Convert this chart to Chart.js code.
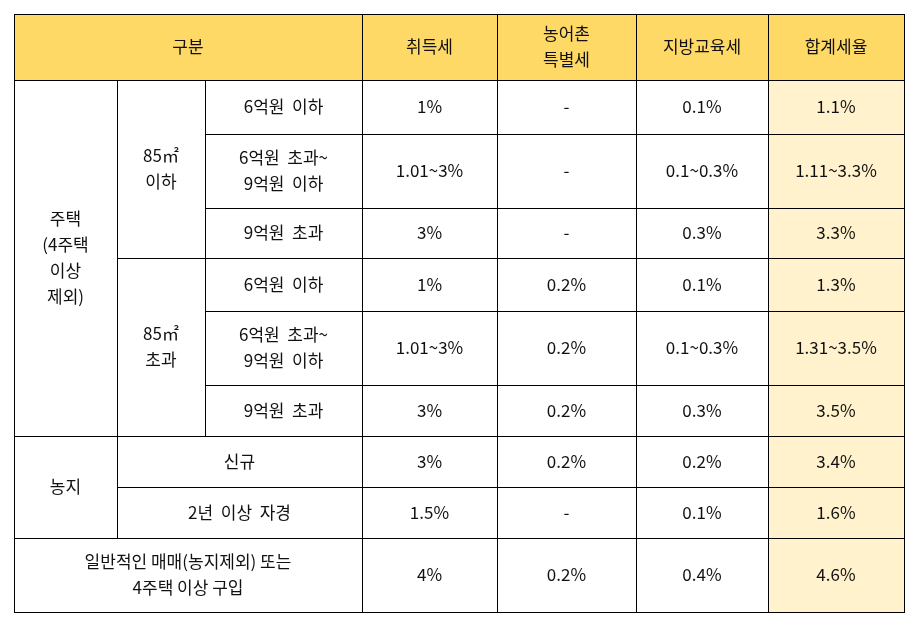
<!DOCTYPE html>
<html>
<head>
<meta charset="utf-8">
<script src="https://cdn.jsdelivr.net/npm/chart.js@4"></script>
<style>
  html, body { margin: 0; padding: 0; background: #fff; }
  #wrap { width: 915px; height: 628px; }
</style>
</head>
<body>
<div id="wrap"><canvas id="c"></canvas></div>
<script>
// Table content
const headers = ['구분', '취득세', '농어촌\n특별세', '지방교육세', '합계세율'];
const groupLabels = ['주택\n(4주택\n이상\n제외)', '농지', '일반적인 매매(농지제외) 또는\n4주택 이상 구입'];
const sizeLabels = ['85㎡\n이하', '85㎡\n초과'];
const priceLabels = ['6억원  이하', '6억원  초과~\n9억원  이하', '9억원  초과'];
const farmLabels = ['신규', '2년  이상  자경'];
const acquisitionTax = ['1%', '1.01~3%', '3%', '1%', '1.01~3%', '3%', '3%', '1.5%', '4%'];
const ruralTax = ['-', '-', '-', '0.2%', '0.2%', '0.2%', '0.2%', '-', '0.2%'];
const educationTax = ['0.1%', '0.1~0.3%', '0.3%', '0.1%', '0.1~0.3%', '0.3%', '0.2%', '0.1%', '0.4%'];
const totalRate = ['1.1%', '1.11~3.3%', '3.3%', '1.3%', '1.31~3.5%', '3.5%', '3.4%', '1.6%', '4.6%'];

// Layout (grid lines in scale units)
const colEdges = [14, 117, 205, 362, 497, 636, 768, 904];
const rowEdges = [14, 80, 134, 208, 258, 311, 385, 436, 487, 538, 612];

const HEAD_BG = '#FFD966';
const TOTAL_BG = '#FFF2CC';

// cells: [c0, c1, r0, r1, text, fill]
const cells = [];
cells.push([0, 3, 0, 1, headers[0], HEAD_BG]);
for (let i = 1; i < headers.length; i++) cells.push([i + 2, i + 3, 0, 1, headers[i], HEAD_BG]);
cells.push([0, 1, 1, 7, groupLabels[0]]);
sizeLabels.forEach((s, k) => {
  cells.push([1, 2, 1 + k * 3, 4 + k * 3, s]);
  priceLabels.forEach((p, j) => cells.push([2, 3, 1 + k * 3 + j, 2 + k * 3 + j, p]));
});
cells.push([0, 1, 7, 9, groupLabels[1]]);
farmLabels.forEach((f, j) => cells.push([1, 3, 7 + j, 8 + j, f]));
cells.push([0, 3, 9, 10, groupLabels[2]]);
for (let r = 0; r < acquisitionTax.length; r++) {
  cells.push([3, 4, r + 1, r + 2, acquisitionTax[r]]);
  cells.push([4, 5, r + 1, r + 2, ruralTax[r]]);
  cells.push([5, 6, r + 1, r + 2, educationTax[r]]);
  cells.push([6, 7, r + 1, r + 2, totalRate[r], TOTAL_BG]);
}

const tablePlugin = {
  id: 'table',
  afterDraw(chart) {
    const ctx = chart.ctx;
    const xs = chart.scales.x, ys = chart.scales.y;
    ctx.save();
    ctx.font = '17px "Noto Sans CJK KR", sans-serif';
    ctx.textAlign = 'center';
    ctx.textBaseline = 'middle';
    cells.forEach(([c0, c1, r0, r1, text, fill]) => {
      const x0 = xs.getPixelForValue(colEdges[c0]);
      const x1 = xs.getPixelForValue(colEdges[c1]);
      const y0 = ys.getPixelForValue(rowEdges[r0]);
      const y1 = ys.getPixelForValue(rowEdges[r1]);
      if (fill) {
        ctx.fillStyle = fill;
        ctx.fillRect(x0, y0, x1 - x0, y1 - y0);
      }
      ctx.strokeStyle = '#000';
      ctx.lineWidth = 1;
      ctx.strokeRect(Math.round(x0) + 0.5, Math.round(y0) + 0.5, Math.round(x1 - x0), Math.round(y1 - y0));
      const lines = text.split('\n');
      const lh = 26;
      const cy = (y0 + y1) / 2 - (lines.length - 1) * lh / 2;
      ctx.fillStyle = '#111';
      lines.forEach((ln, i) => ctx.fillText(ln, (x0 + x1) / 2, cy + i * lh));
    });
    ctx.restore();
  }
};

new Chart(document.getElementById('c'), {
  type: 'scatter',
  data: { datasets: [{ data: [] }] },
  options: {
    responsive: true,
    maintainAspectRatio: false,
    animation: false,
    layout: { padding: 0 },
    plugins: { legend: { display: false }, tooltip: { enabled: false } },
    scales: {
      x: { type: 'linear', min: 0, max: 915, display: false },
      y: { type: 'linear', min: 0, max: 628, reverse: true, display: false }
    }
  },
  plugins: [tablePlugin]
});
</script>
</body>
</html>
